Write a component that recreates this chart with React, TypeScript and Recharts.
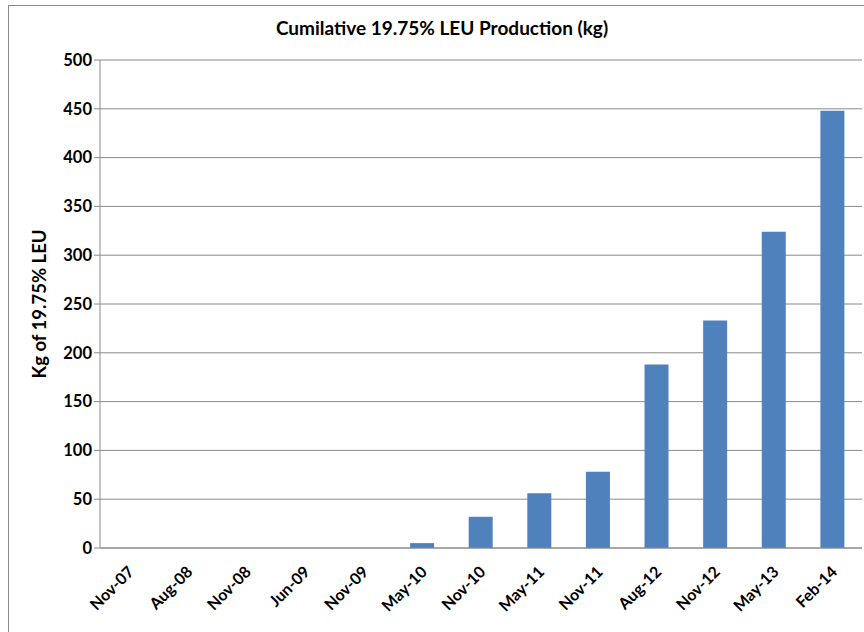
import { Bar, BarChart, CartesianGrid, XAxis, YAxis } from "recharts";

const months = [
  "Nov-07", "Aug-08", "Nov-08", "Jun-09", "Nov-09", "May-10", "Nov-10",
  "May-11", "Nov-11", "Aug-12", "Nov-12", "May-13", "Feb-14",
];
const leuKg = [0, 0, 0, 0, 0, 5, 32, 56, 78, 188, 233, 324, 448];
const yTicks = [0, 50, 100, 150, 200, 250, 300, 350, 400, 450, 500];

const data = months.map((month, i) => ({ month, kg: leuKg[i] }));

const FONT = "Lato, 'Open Sans', sans-serif";

function MonthTick({ x, y, payload }: any) {
  return (
    <text
      x={x}
      y={y}
      dx={-8}
      dy={16}
      textAnchor="end"
      transform={`rotate(-45, ${x}, ${y})`}
      fontFamily={FONT}
      fontWeight={700}
      fontSize={16}
      fill="#000"
    >
      {payload.value}
    </text>
  );
}

export default function App() {
  return (
    <div
      style={{
        position: "absolute",
        left: 8,
        top: 5,
        width: 870,
        height: 640,
        border: "1px solid #8c8c8c",
        background: "#fff",
        fontFamily: FONT,
      }}
    >
      <div
        style={{
          position: "absolute",
          top: 10,
          left: 0,
          width: 866,
          textAlign: "center",
          fontWeight: 700,
          fontSize: 19,
          color: "#000",
        }}
      >
        Cumilative 19.75% LEU Production (kg)
      </div>
      <BarChart
        width={870}
        height={624}
        data={data}
        margin={{ top: 54, right: 17, bottom: 0, left: 0 }}
        barCategoryGap={0}
      >
        <CartesianGrid vertical={false} stroke="#8a8a8a" />
        <XAxis
          dataKey="month"
          height={82}
          interval={0}
          tickLine={false}
          axisLine={{ stroke: "#8a8a8a" }}
          tick={<MonthTick />}
        />
        <YAxis
          width={91}
          domain={[0, 500]}
          ticks={yTicks}
          interval={0}
          tickSize={6}
          tickLine={{ stroke: "#8a8a8a" }}
          axisLine={{ stroke: "#8a8a8a" }}
          tick={{ fill: "#000", fontSize: 16.5, fontWeight: 700, fontFamily: FONT }}
          label={{
            value: "Kg of 19.75% LEU",
            angle: -90,
            position: "insideLeft",
            offset: 30,
            style: { textAnchor: "middle", fill: "#000", fontSize: 18.5, fontWeight: 700, fontFamily: FONT },
          }}
        />
        <Bar dataKey="kg" fill="#4f81bd" barSize={24} isAnimationActive={false} />
      </BarChart>
    </div>
  );
}
